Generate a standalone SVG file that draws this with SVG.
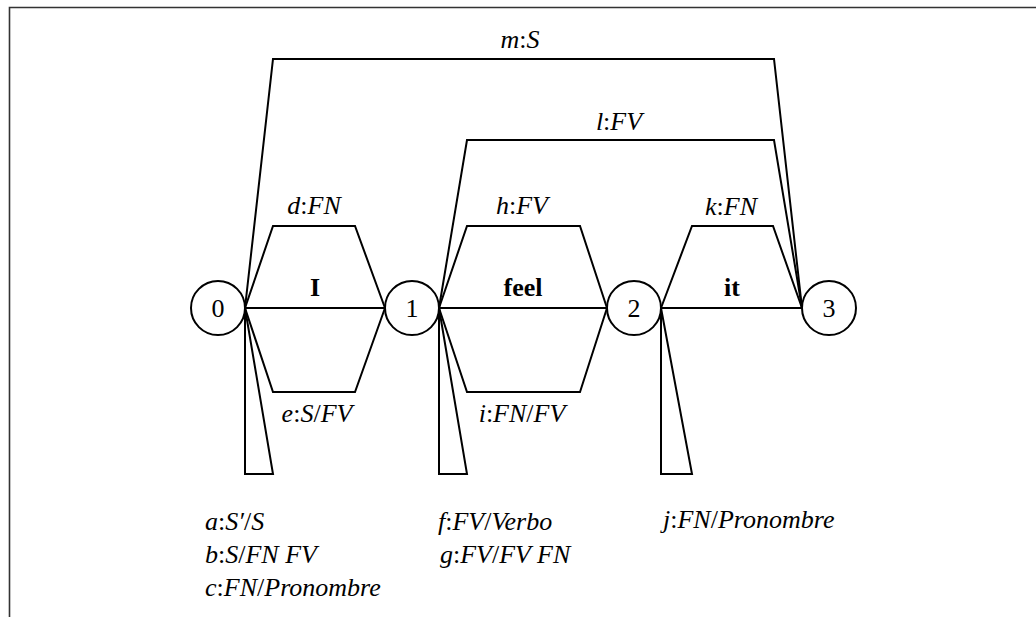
<svg xmlns="http://www.w3.org/2000/svg" width="1036" height="617" viewBox="0 0 1036 617">
<style>
.e{fill:none;stroke:#000;stroke-width:2;stroke-linejoin:miter}
.n{fill:#fff;stroke:#000;stroke-width:2}
.t{font-family:"Liberation Serif","Times New Roman",serif;font-size:26px;fill:#000}
.c{text-anchor:middle}
.i{font-style:italic}
.b{font-weight:bold}
</style>
<rect width="1036" height="617" fill="#fff"/>
<path d="M9.5 617V7.5H1036" fill="none" stroke="#333" stroke-width="1.6"/>
<g id="connectors">
<line class="e" x1="245" y1="308" x2="385" y2="308"/>
<line class="e" x1="439" y1="308" x2="607" y2="308"/>
<line class="e" x1="661" y1="308" x2="802" y2="308"/>
<polyline class="e" points="245,308 273,226 355,226 385,308"/>
<polyline class="e" points="245,308 273,392 355,392 385,308"/>
<polyline class="e" points="439,308 467,226 580,226 607,308"/>
<polyline class="e" points="439,308 467,392 580,392 607,308"/>
<polyline class="e" points="661,308 692,226 773,226 802,308"/>
<polyline class="e" points="439,308 467,140 774,140 802,308"/>
<polyline class="e" points="245,308 273,59 774,59 802,308"/>
<polygon class="e" points="245,308 245,474 273,474"/>
<polygon class="e" points="439,308 439,474 467,474"/>
<polygon class="e" points="661,308 661,474 692,474"/>
<text class="t c b" x="315" y="296">I</text>
<text class="t c b" x="523" y="296">feel</text>
<text class="t c b" x="732" y="296">it</text>
<text class="t c" x="520" y="48"><tspan class="i">m</tspan>:<tspan class="i">S</tspan></text>
<text class="t c" x="619" y="130"><tspan class="i">l</tspan>:<tspan class="i">FV</tspan></text>
<text class="t c" x="314" y="214"><tspan class="i">d</tspan>:<tspan class="i">FN</tspan></text>
<text class="t c" x="317" y="422"><tspan class="i">e</tspan>:<tspan class="i">S</tspan>/<tspan class="i">FV</tspan></text>
<text class="t c" x="522" y="214"><tspan class="i">h</tspan>:<tspan class="i">FV</tspan></text>
<text class="t c" x="522" y="422"><tspan class="i">i</tspan>:<tspan class="i">FN</tspan>/<tspan class="i">FV</tspan></text>
<text class="t c" x="731" y="215"><tspan class="i">k</tspan>:<tspan class="i">FN</tspan></text>
<text class="t" x="205" y="530"><tspan class="i">a</tspan>:<tspan class="i">S′</tspan>/<tspan class="i">S</tspan></text>
<text class="t" x="205" y="563"><tspan class="i">b</tspan>:<tspan class="i">S</tspan>/<tspan class="i">FN FV</tspan></text>
<text class="t" x="205" y="596"><tspan class="i">c</tspan>:<tspan class="i">FN</tspan>/<tspan class="i">Pronombre</tspan></text>
<text class="t" x="438" y="530"><tspan class="i">f</tspan>:<tspan class="i">FV</tspan>/<tspan class="i">Verbo</tspan></text>
<text class="t" x="440" y="563"><tspan class="i">g</tspan>:<tspan class="i">FV</tspan>/<tspan class="i">FV FN</tspan></text>
<text class="t" x="663" y="528"><tspan class="i">j</tspan>:<tspan class="i">FN</tspan>/<tspan class="i">Pronombre</tspan></text>
</g>
<g id="node0"><circle class="n" cx="218" cy="308" r="27"/><text class="t c" x="218" y="317">0</text></g>
<g id="node1"><circle class="n" cx="412" cy="308" r="27"/><text class="t c" x="412" y="317">1</text></g>
<g id="node2"><circle class="n" cx="634" cy="308" r="27"/><text class="t c" x="634" y="317">2</text></g>
<g id="node3"><circle class="n" cx="829" cy="308" r="27"/><text class="t c" x="829" y="317">3</text></g>
</svg>
